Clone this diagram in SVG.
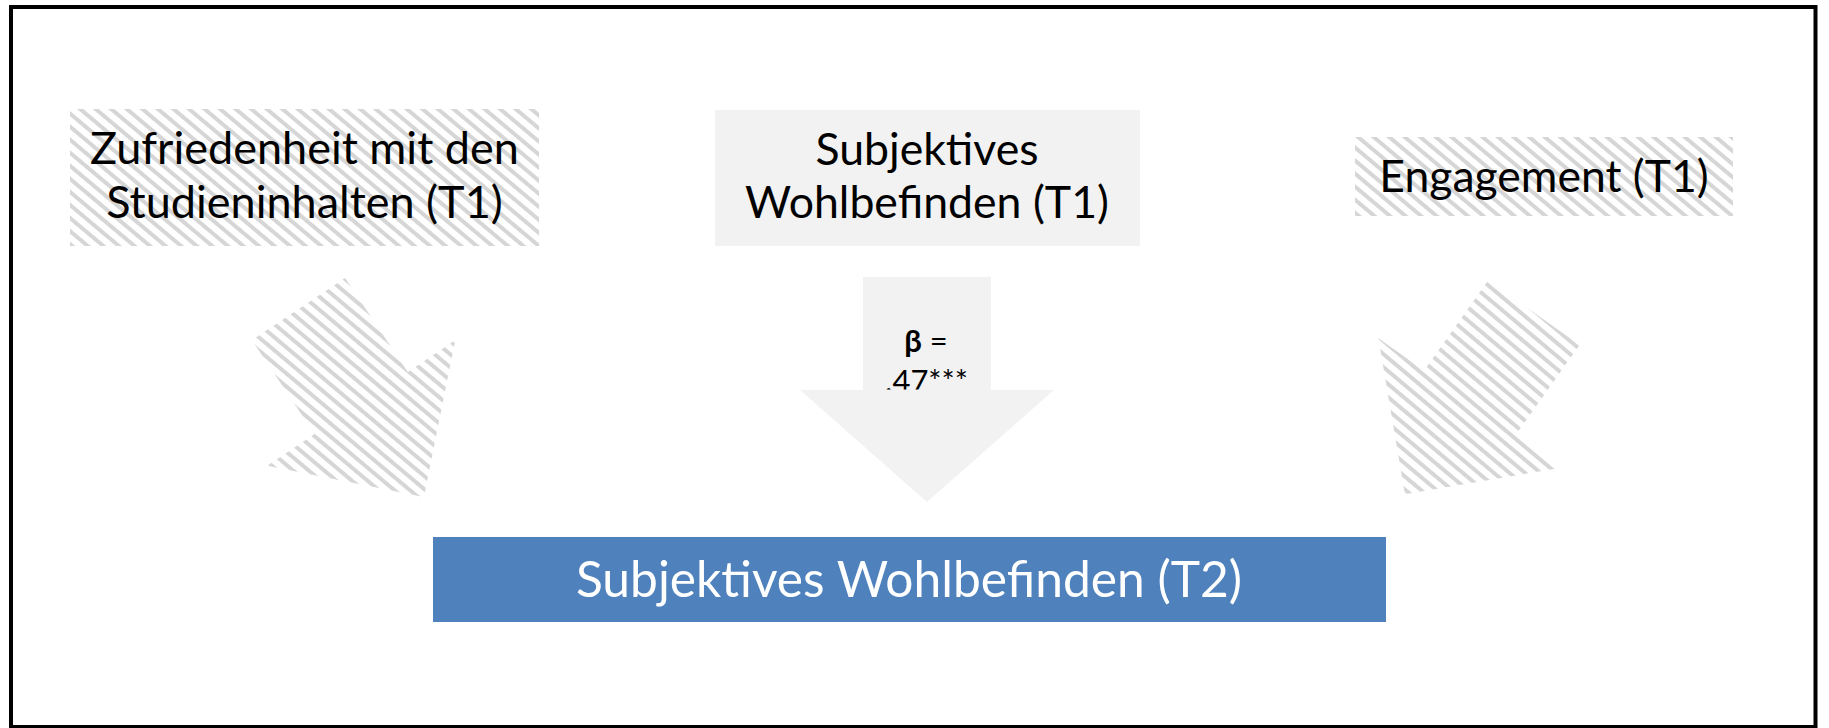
<svg xmlns="http://www.w3.org/2000/svg" width="1829" height="728" viewBox="0 0 1829 728">
  <style>
    .t { font-family: Lato, "Open Sans", "Liberation Sans", sans-serif; fill: #000; text-anchor: middle; }
    .hatch { fill: url(#hatch); }
    .light { fill: #f2f2f2; }
  </style>
  <defs>
    <pattern id="hatch" patternUnits="userSpaceOnUse" width="10" height="10" patternTransform="rotate(40)">
      <rect x="0" y="0" width="10" height="10" fill="#ffffff"/>
      <rect x="0" y="0" width="10" height="4" fill="#d6d6d6"/>
    </pattern>
    <clipPath id="shaftClip">
      <rect x="863" y="277" width="128" height="112.5"/>
    </clipPath>
  </defs>
  <rect x="0" y="0" width="1829" height="728" fill="#ffffff"/>
  <rect x="11" y="7" width="1804.5" height="720" fill="none" stroke="#000" stroke-width="4"/>

  <g id="connectors">
    <polygon id="arrow-left" class="hatch" points="251.9,340.1 345.1,277.9 407.8,371.9 455.2,340.3 423.9,497 267.2,465.7 314.6,434.1"/>
    <polygon id="arrow-right" class="hatch" points="1488.4,280.1 1579.6,344.9 1515.3,435.4 1561,467.8 1404.9,494.2 1378.4,338.2 1424.1,370.6"/>
    <g id="arrow-center">
      <polygon class="light" points="863,277 991,277 991,390 1054,390 927,502 800,390 863,390"/>
      <g clip-path="url(#shaftClip)">
        <text class="t" x="926" y="352" font-size="31"><tspan font-weight="bold">β</tspan> =</text>
        <text class="t" x="926.5" y="392" font-size="31">.47***</text>
      </g>
    </g>
  </g>

  <g id="node-zufriedenheit">
    <rect class="hatch" x="70" y="109" width="469" height="137"/>
    <text class="t" x="304.5" y="164" font-size="45">Zufriedenheit mit den</text>
    <text class="t" x="304.5" y="218" font-size="45">Studieninhalten (T1)</text>
  </g>

  <g id="node-wohlbefinden-t1">
    <rect class="light" x="715" y="110" width="425" height="136"/>
    <text class="t" x="927" y="165" font-size="44.6">Subjektives</text>
    <text class="t" x="927" y="218" font-size="44.6">Wohlbefinden (T1)</text>
  </g>

  <g id="node-engagement">
    <rect class="hatch" x="1355" y="137" width="378" height="79"/>
    <text class="t" x="1544" y="192" font-size="44.5">Engagement (T1)</text>
  </g>

  <g id="node-wohlbefinden-t2">
    <rect x="433" y="537" width="953" height="85" fill="#4f81bd"/>
    <text class="t" x="909" y="597" font-size="49.7" style="fill:#ffffff">Subjektives Wohlbefinden (T2)</text>
  </g>
</svg>
